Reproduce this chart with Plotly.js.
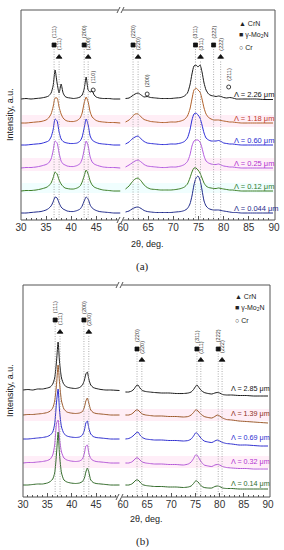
<!DOCTYPE html>
<html><head><meta charset="utf-8">
<script src="https://cdn.plot.ly/plotly-3.0.1.min.js"></script>
<style>html,body{margin:0;padding:0;background:#fff}#chart{width:284px;height:550px}</style>
</head><body><div id="chart"></div>
<script>
// ---------- Panel (a) data ----------
const twoThetaA_L = [30,31,32,33,34,35,35.5,36,36.4,36.8,37.2,37.6,38,38.4,38.8,39.2,39.8,40.5,41.2,41.8,42.2,42.6,43,43.4,43.8,44.2,44.6,45,45.6,46.4,47.5,48.5,49.8];
const twoThetaA_R = [60.5,61.2,61.8,62.4,63,63.6,64.2,64.8,65.5,66.5,67.5,68.5,69.5,70.5,71.5,72.2,72.8,73.3,73.7,74.1,74.5,74.9,75.3,75.7,76.1,76.5,77,77.5,78,78.5,79,79.5,80,80.6,81.2,81.8,82.5,83.5,85,86.5,88,89.8];
const labelsA = ['Λ = 2.26 μm','Λ = 1.18 μm','Λ = 0.60 μm','Λ = 0.25 μm','Λ = 0.12 μm','Λ = 0.044 μm'];
const stackA = [121, 97, 75, 52, 29, 7];
const a226_L = [0,0.5,0,0.5,1,2,3,6,13,29,16,6,15,6,2.5,1.5,1,0.5,1,2,4,10,22,9,7,8,4,2,1,0.5,0.5,0,0];
const a118_L = [0,0,0.5,1,1.5,3,5,9,16,25,25,16,9,5,3,2,1.5,1.5,2.5,5,10,20,26,21,11,6,4,2.5,1.5,1,0.5,0.5,0];
const a060_L = [0,0,0.5,1,1.5,3,4,8,15,26,24,13,6,3.5,2.5,2,1.5,1.5,2,4,8,17,26,20,9,5,3.5,2.5,1.5,1,0.5,0,0];
const a025_L = [0,0.5,0.5,1,2,3.5,5,9,17,27,25,15,7,4,3,2,1.5,1.5,2.5,4.5,9,18,27,22,11,6,4,3,2,1,0.5,0.5,0];
const a012_L = [0,0.5,0.5,1,2,3.5,5,8,13,19,17,11,7,4.5,3,2.5,2,2,3,5,9,15,21,17,10,6,4,3,2,1,0.5,0,0];
const a0044_L = [0,0,0.5,1,1.5,3,4.5,7,11,16,15,10,6,4,3,2,1.5,1.5,2.5,4,7,12,16,14,8,5,3.5,2.5,1.5,1,0.5,0,0];
const a226_R = [0.5,1,3,5,6,4,2,2.5,1.5,1,0.5,0.5,0.5,1,1.5,3,6,14,25,33,34,32,34,27,16,9,5,3.5,3,2.5,3,2.5,1.5,1,1.5,1,0,0,0,0,-0.5,-0.5];
const a118_R = [1,3,6,9,9,6,3.5,2.5,1.5,1,0.5,0.5,1,1,2,3.5,7,14,24,33,35,33,31,24,15,9,5.5,4,3,3,3,2.5,2,1.5,1,1,0.5,0,0,0,0,0];
const a060_R = [1,3,6,8,9,6,3.5,2,1.5,1,0.5,0.5,1,1,2,3.5,7,15,25,31,32,30,27,20,12,7,5,4,4,4,4.5,3.5,2,1.5,1,1,0.5,0,0,0,0,0];
const a025_R = [1,3,5,7,8,6,3.5,2,1.5,1,0.5,0.5,1,1,2,3.5,6.5,13,22,27,28,28,26,20,12,7,5,4,3.5,3.5,4,3,2,1.5,1,1,0.5,0,0,0,0,0];
const a012_R = [2,5,9,12,13,10,6,3.5,2,1.5,1,1,1,1.5,2.5,4,7,13,19,23,23,21,18,13,8,5,3.5,3,2.5,2.5,3,2.5,2,1.5,1,1,0.5,0,0,0,0,0];
const a0044_R = [1,2,4,5.5,6,4.5,2.5,1.5,1,0.5,0.5,0.5,0.5,1,1.5,2.5,4.5,9,17,28,35,37,33,23,12,7,4.5,3.5,3,3,3,2.5,2,1.5,1,0.5,0.5,0,0,0,0,0];

// ---------- Panel (b) data ----------
const twoThetaB_L = [30,31,32,33,34,35,35.6,36.1,36.5,36.9,37.2,37.5,37.9,38.4,39,39.8,40.8,41.6,42.2,42.6,42.9,43.2,43.5,43.9,44.4,45,46,47,48,49.8];
const twoThetaB_R = [60.5,61.2,61.8,62.3,62.7,63.1,63.5,64,64.7,65.5,66.5,68,69.5,71,72.5,73.5,74.1,74.6,75,75.3,75.7,76.2,76.8,77.6,78.4,79,79.5,80,80.6,81.4,82.5,84,85.5,87,88.5,90];
const labelsB = ['Λ = 2.85 μm','Λ = 1.39 μm','Λ = 0.69 μm','Λ = 0.32 μm','Λ = 0.14 μm'];
const stackB = [107, 82, 58, 34, 12];
const b285_L = [0,0.5,0,1,1,2,3,6,12,30,48,28,12,5.5,3,2,1.5,2.5,5,10,16,18,11,5,2.5,1.5,0.5,0,0,-0.5];
const b139_L = [0,0.5,0.5,1,1.5,2.5,4,7,14,32,50,32,14,6,3,2,1.5,2,3.5,8,14,17,12,5,2.5,1.5,1,0.5,0,0];
const b069_L = [0,0,0.5,1,1.5,2.5,4,7,15,38,50,28,12,5.5,3,2,1.5,2,4,9,16,18,11,5,2.5,1.5,1,0.5,0,0];
const b032_L = [0,0.5,0.5,1,1.5,2.5,4,8,18,40,43,24,11,5,3,2,1.5,2,4,10,17,18,10,4.5,2.5,1.5,1,0.5,0,0];
const b014_L = [0,0,0.5,1,1,2,3.5,6,12,33,53,30,12,5,3,2,1.5,2,3.5,7,13,17,13,5,2.5,1.5,1,0.5,0,0];
const b285_R = [-2,-2,-1,1,4,5,2,-0.5,-1.5,-2,-2.5,-3,-3,-3.5,-3.5,-3,-2,0.5,3.5,5,2.5,-0.5,-2.5,-3.5,-4,-3,-2.5,-3,-4.5,-5,-5,-5.5,-5.5,-6,-6,-6];
const b139_R = [0,0,1,3,5,5,3,1,0,-0.5,-1,-1,-1.5,-1.5,-2,-1.5,0,2.5,5,5,3,0.5,-1.5,-2.5,-3,-1.5,0,-1,-3,-4.5,-5,-6,-6.5,-7,-7.5,-8];
const b069_R = [0,0.5,2,4,6,7,4,1.5,0,-0.5,-1,-1,-1.5,-1.5,-2,-1.5,0,3,6,6,3.5,0.5,-2,-3,-3.5,-2,-1,-2,-3.5,-4.5,-5,-6,-6,-6.5,-7,-7];
const b032_R = [0,0,1,3,5,5,3,1,0,-0.5,-1,-1,-1.5,-1.5,-2,-1,1,4.5,8,8,5,1,-2,-3,-3.5,-2,-1.5,-2,-3.5,-4.5,-5,-5.5,-5.5,-6,-6,-6];
const b014_R = [0,0,1,3,5,5,3,0.5,-0.5,-1,-1.5,-1.5,-2,-2,-2.5,-2,-1,1.5,4,4,2,-1,-2.5,-3,-3,-1.5,-1,-1.5,-3,-3.5,-3.5,-4,-4,-4,-4,-4];

// ---------- Reflections ----------
const hklMain = ['(111)','(200)','(220)','(311)','(222)'];
const hklCr = ['(110)','(200)','(211)'];
const mo2nPosA = [36.6, 42.6, 62.0, 74.4, 78.0];
const crnPosA  = [37.6, 43.4, 63.0, 75.4, 79.4];
const crPosA   = [44.4, 64.8, 81.0];
const mo2nPosB = [36.6, 42.5, 62.9, 75.3, 79.7];
const crnPosB  = [37.6, 43.5, 63.9, 76.1, 80.5];
const legendItems = ['▲ CrN', '■ γ-Mo<sub>2</sub>N', '○ Cr'];
const xTitle = '2θ, deg.';
const yTitle = 'Intensity, a.u.';

// ---------- helpers ----------
const W = 284, H = 550;
const PX = p => p / W, PY = p => 1 - p / H;
const FONT = 'Liberation Sans, Arial, sans-serif';

const colA = ['#1a1a1a','#b0602a','#2d2dd8','#b45ce0','#3b7d23','#1f2a8a'];
const tcolA = ['#111111','#c0392b','#2a2ad0','#b030d0','#2e7d32','#1f2a8a'];
const colB = ['#1a1a1a','#9c5a2c','#3030d0','#b55ad8','#336b2a'];
const tcolB = ['#111111','#8b2d1a','#2a2ad0','#b030d0','#2e6b2e'];

const seriesA = [[a226_L,a226_R],[a118_L,a118_R],[a060_L,a060_R],[a025_L,a025_R],[a012_L,a012_R],[a0044_L,a0044_R]];
const seriesB = [[b285_L,b285_R],[b139_L,b139_R],[b069_L,b069_R],[b032_L,b032_R],[b014_L,b014_R]];

const traces = [];
function addCurves(series, offs, cols, xL, xR, axL, axR, ay) {
  series.forEach((s, i) => {
    const ln = {color: cols[i], width: 1, shape: 'spline', smoothing: 0.6};
    traces.push({x: xL, y: s[0].map(v => v + offs[i]), xaxis: axL, yaxis: ay, mode: 'lines', line: ln, hoverinfo: 'skip'});
    traces.push({x: xR, y: s[1].map(v => v + offs[i]), xaxis: axR, yaxis: ay, mode: 'lines', line: ln, hoverinfo: 'skip'});
  });
}
addCurves(seriesA, stackA, colA, twoThetaA_L, twoThetaA_R, 'x', 'x2', 'y');
addCurves(seriesB, stackB, colB, twoThetaB_L, twoThetaB_R, 'x3', 'x4', 'y2');

const shapes = [];
const annotations = [];
const LC = '#555';
function seg(x0, y0, x1, y1) {
  shapes.push({type: 'line', xref: 'paper', yref: 'paper', x0: PX(x0), y0: PY(y0), x1: PX(x1), y1: PY(y1), line: {color: LC, width: 1}});
}
function band(y0, y1, x0, x1, col) {
  shapes.push({type: 'rect', xref: 'paper', yref: 'paper', x0: PX(x0), x1: PX(x1), y0: PY(y1), y1: PY(y0), fillcolor: col, line: {width: 0}, layer: 'below'});
}
function frame(l, t, r, b, brk) {
  seg(l, t, l, b); seg(r, t, r, b);
  seg(l, t, brk - 3, t); seg(brk + 2, t, r, t);
  seg(l, b, brk - 3, b); seg(brk + 2, b, r, b);
  [t, b].forEach(y => { seg(brk - 4, y + 3, brk - 1, y - 3); seg(brk, y + 3, brk + 3, y - 3); });
}
function ann(px, py, text, o) {
  annotations.push(Object.assign({xref: 'paper', yref: 'paper', x: PX(px), y: PY(py), text: text, showarrow: false,
    font: {family: FONT, size: 9, color: '#222'}, xanchor: 'center', yanchor: 'middle'}, o || {}));
}

// faint highlight bands (as in the scan)
band(115, 127, 22, 274, 'rgba(255,170,210,0.2)');
band(158, 171, 22, 274, 'rgba(255,170,220,0.2)');
band(183, 193, 22, 274, 'rgba(160,250,250,0.16)');
band(409, 421, 24, 269, 'rgba(255,170,210,0.2)');
band(456, 468, 24, 269, 'rgba(255,170,220,0.2)');

frame(21, 10, 275, 220, 121);
frame(23, 285, 270, 497, 120);

// reflections
function reflections(pos, hkl, sym, sz, markY, labY, axL, axR, ay, withLine) {
  const xs = {}, ys = {};
  pos.forEach((p, i) => {
    const ax = p < 55 ? axL : axR;
    const my = Array.isArray(markY) ? markY[i] : markY;
    const ly = Array.isArray(labY) ? labY[i] : labY;
    (xs[ax] = xs[ax] || []).push(p); (ys[ax] = ys[ax] || []).push(my);
    if (withLine) shapes.push({type: 'line', xref: ax, yref: ay, x0: p, x1: p, y0: 0, y1: my - 3, line: {color: '#999', width: 0.8, dash: '1px,1.5px'}});
    annotations.push({xref: ax, yref: ay, x: p, y: ly, text: hkl[i], textangle: -90, showarrow: false,
      font: {family: FONT, size: 5.5, color: '#333'}, xanchor: 'center', yanchor: 'middle'});
  });
  Object.keys(xs).forEach(ax => traces.push({x: xs[ax], y: ys[ax], xaxis: ax, yaxis: ay, mode: 'markers',
    marker: {symbol: sym, size: sz, color: '#111', line: {color: '#111', width: 0.8}}, hoverinfo: 'skip'}));
}
reflections(mo2nPosA, hklMain, 'square', 4, 175, 188, 'x', 'x2', 'y', true);
reflections(crnPosA, hklMain, 'triangle-up', 5, 163, 176, 'x', 'x2', 'y', true);
reflections(crPosA, hklCr, 'circle-open', 4, [130, 126, 133], [143, 139, 146], 'x', 'x2', 'y', false);
reflections(mo2nPosB, hklMain, 'square', 4, [177, 177, 148, 148, 148], [190, 190, 161, 161, 161], 'x3', 'x4', 'y2', true);
reflections(crnPosB, hklMain, 'triangle-up', 5, [165, 165, 137, 137, 137], [178, 178, 150, 150, 150], 'x3', 'x4', 'y2', true);

// series labels
labelsA.forEach((t, i) => annotations.push({xref: 'paper', yref: 'y', x: PX(232), y: stackA[i] + 5, text: t, showarrow: false,
  xanchor: 'left', yanchor: 'middle', font: {family: FONT, size: 7.5, color: tcolA[i]}}));
labelsB.forEach((t, i) => annotations.push({xref: 'paper', yref: 'y2', x: PX(229), y: stackB[i] + 1.5, text: t, showarrow: false,
  xanchor: 'left', yanchor: 'middle', font: {family: FONT, size: 7.2, color: tcolB[i]}}));

// legends
[23, 35, 47].forEach((py, i) => ann(237, py, legendItems[i], {xanchor: 'left', font: {family: FONT, size: 7, color: '#222'}}));
[296, 308, 320].forEach((py, i) => ann(233, py, legendItems[i], {xanchor: 'left', font: {family: FONT, size: 7, color: '#222'}}));

// titles
ann(10, 115, yTitle, {textangle: -90, font: {family: FONT, size: 9, color: '#222'}});
ann(10, 391, yTitle, {textangle: -90, font: {family: FONT, size: 9, color: '#222'}});
ann(147, 244, xTitle, {font: {family: FONT, size: 9, color: '#222'}});
ann(146, 519, xTitle, {font: {family: FONT, size: 9, color: '#222'}});
ann(142, 266, '(a)', {font: {family: 'Liberation Serif, serif', size: 11, color: '#222'}});
ann(142, 541, '(b)', {font: {family: 'Liberation Serif, serif', size: 11, color: '#222'}});

function xax(dom, rng, t0, anchor) {
  return {domain: [PX(dom[0]), PX(dom[1])], range: rng, anchor: anchor, tick0: t0, dtick: 5, ticks: 'inside', ticklen: 4,
    tickwidth: 1, tickcolor: LC, showline: false, showgrid: false, zeroline: false,
    tickfont: {family: FONT, size: 10, color: '#333'},
    minor: {ticks: 'inside', ticklen: 2, dtick: 1, tick0: t0, tickcolor: LC, tickwidth: 1, showgrid: false}};
}
function yax(dom, rng, anchor) {
  return {domain: [PY(dom[1]), PY(dom[0])], range: rng, anchor: anchor, visible: false, showgrid: false, zeroline: false};
}

const layout = {
  width: W, height: H, margin: {l: 0, r: 0, t: 0, b: 0}, showlegend: false,
  paper_bgcolor: '#ffffff', plot_bgcolor: 'rgba(0,0,0,0)',
  xaxis: xax([21, 121], [30, 49.95], 30, 'y'),
  xaxis2: xax([123, 274], [60, 90], 60, 'y'),
  xaxis3: xax([23, 120], [30, 49.9], 30, 'y2'),
  xaxis4: xax([123, 268], [60, 90], 60, 'y2'),
  yaxis: yax([10, 220], [0, 210], 'x'),
  yaxis2: yax([285, 497], [0, 212], 'x3'),
  shapes: shapes, annotations: annotations
};
Plotly.newPlot('chart', traces, layout, {staticPlot: true, displayModeBar: false});
</script></body></html>
